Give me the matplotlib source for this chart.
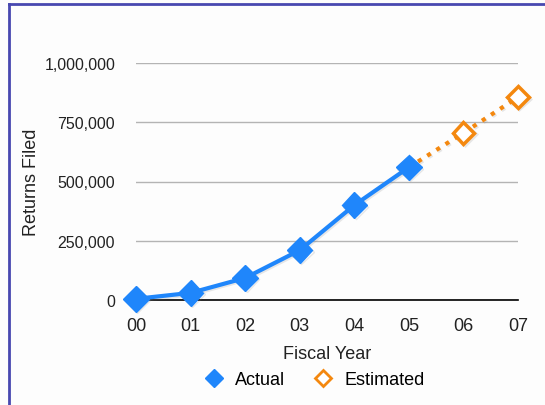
import numpy as np
import matplotlib
matplotlib.use("Agg")
import matplotlib.pyplot as plt
from matplotlib.lines import Line2D
import matplotlib.patheffects as pe

years = ["00", "01", "02", "03", "04", "05", "06", "07"]
actual = [5000, 30000, 93000, 210000, 400000, 560000]
estimated = [560000, 705000, 856000]  # 05 -> 07

blue = "#1f86fb"
orange = "#f4880f"

plt.rcParams['font.family'] = ['Liberation Sans', 'DejaVu Sans']

fig = plt.figure(figsize=(5.45, 4.06), dpi=100, facecolor="#fdfdfd")
ax = fig.add_axes([136/545, 1-301/406, 382/545, 237/406])
ax.set_facecolor("#fdfdfd")

shadow = [pe.SimpleLineShadow(offset=(1, -1), shadow_color="gray", alpha=0.18), pe.Normal()]

x = np.arange(len(years))
ax.plot(x[5:8], estimated, color=orange, lw=3, ls=(0, (1, 1.6)),
        marker="D", markersize=11, markevery=[1, 2],
        markerfacecolor="white", markeredgecolor=orange, markeredgewidth=2.5,
        clip_on=False, zorder=3, path_effects=shadow)
ax.plot(x[:6], actual, color=blue, lw=3, marker="D", markersize=13,
        markerfacecolor=blue, markeredgecolor=blue,
        clip_on=False, zorder=4, path_effects=shadow)

ax.set_xlim(0, 7)
ax.set_ylim(0, 1000000)
ax.set_xticks(x)
ax.set_xticklabels(years, fontsize=13, color="#222222")
ax.set_yticks([0, 250000, 500000, 750000, 1000000])
ax.set_yticklabels(["0", "250,000", "500,000", "750,000", "1,000,000"],
                   fontsize=11.5, color="#222222")
ax.tick_params(length=0)
ax.tick_params(axis="y", pad=15)
ax.tick_params(axis="x", pad=12)
ax.grid(axis="y", color="#b4b4b4", lw=1)
ax.set_axisbelow(True)
for s in ["left", "right", "top"]:
    ax.spines[s].set_visible(False)
ax.spines["bottom"].set_color("black")
ax.spines["bottom"].set_linewidth(1.2)
ax.spines["bottom"].set_zorder(2.5)

ax.set_xlabel("Fiscal Year", fontsize=13, color="#222222", va="center")
ax.xaxis.set_label_coords(0.5, (301-355)/237)
ax.set_ylabel("Returns Filed", fontsize=13, color="#222222", va="center")
ax.yaxis.set_label_coords((32-136)/382, 0.5)

handles = [
    Line2D([], [], ls="none", marker="D", markersize=9, color=blue),
    Line2D([], [], ls="none", marker="D", markersize=8, markerfacecolor="white",
           markeredgecolor=orange, markeredgewidth=2),
]
fig.legend(handles, ["Actual", "Estimated"], loc="center",
           bbox_to_anchor=(314/545, 1-381/406), ncol=2, frameon=False,
           fontsize=13, handlelength=1.2, handletextpad=0.6, columnspacing=1.5)

# frame edges visible in the crop
fig.add_artist(Line2D([9/545, 9/545], [0, 1-4.5/406], color="#4848b0", lw=2))
fig.add_artist(Line2D([9/545, 1], [1-4.5/406, 1-4.5/406], color="#4848b0", lw=2))

fig.savefig("out.png", dpi=100, facecolor=fig.get_facecolor())
